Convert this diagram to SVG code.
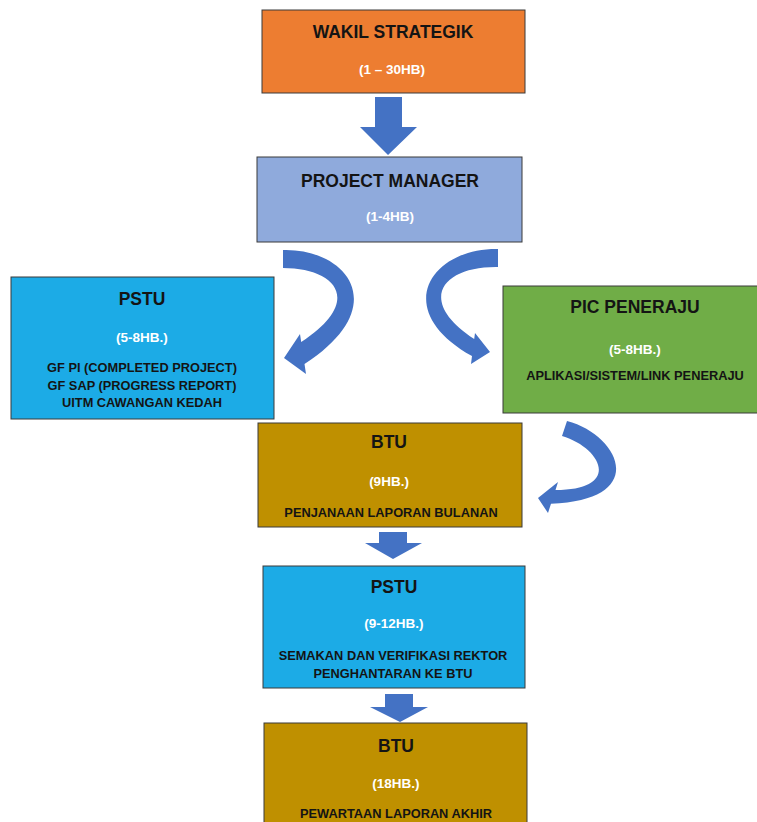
<svg xmlns="http://www.w3.org/2000/svg" width="757" height="822" viewBox="0 0 757 822">
<style>
.box{stroke:#3a3a3a;stroke-width:1}
.t{font-family:"Liberation Sans",Arial,sans-serif;font-weight:bold;fill:#141414;text-anchor:middle}
.h{font-size:17.5px}
.s{font-size:13.5px;fill:#ffffff}
.d{font-size:12.8px}
.arr{fill:#4472C4}
</style>
<rect width="757" height="822" fill="#ffffff"/>
<g id="connectors">
<path class="arr" d="M375,97 L402,97 L402,127 L417,127 L388,155 L360,127 L375,127 Z"/>
<path class="arr" d="M283,250 C345,248 395,305 304.5,364 L306,374 L284,358 L300,334 L301.2,342 C365,300 335,268 283,268 Z"/>
<path class="arr" d="M498,249 C430,248 390,310 472,356 L471,364 L490,352 L475,333 L474.2,339 C415,300 443,266 498,267 Z"/>
<path class="arr" d="M567,421 C620,435 650,500 551,503.7 L548,513 L538,498 L558,482 L555.5,490 C622,490 602,448 562,436 Z"/>
<path class="arr" d="M379,532 L407,532 L407,543 L422,543 L393,559 L365,543 L379,543 Z"/>
<path class="arr" d="M385,694 L413,694 L413,707 L428,707 L400,722 L370,707 L385,707 Z"/>
</g>
<g id="wakil">
<rect class="box" x="262" y="10" width="263" height="83" fill="#ED7D31"/>
<text class="t h" x="393" y="38">WAKIL STRATEGIK</text>
<text class="t s" x="392" y="74">(1 – 30HB)</text>
</g>
<g id="pm">
<rect class="box" x="257" y="157" width="265" height="85" fill="#8FAADC"/>
<text class="t h" x="390" y="187">PROJECT MANAGER</text>
<text class="t s" x="390" y="221">(1-4HB)</text>
</g>
<g id="pstu1">
<rect class="box" x="11" y="277" width="263" height="142" fill="#1CABE6"/>
<text class="t h" x="142" y="305">PSTU</text>
<text class="t s" x="142" y="342">(5-8HB.)</text>
<text class="t d" x="142" y="372">GF PI (COMPLETED PROJECT)</text>
<text class="t d" x="142" y="390">GF SAP (PROGRESS REPORT)</text>
<text class="t d" x="142" y="407">UITM CAWANGAN KEDAH</text>
</g>
<g id="pic">
<rect class="box" x="503" y="286" width="264" height="127" fill="#70AD47"/>
<text class="t h" x="635" y="313">PIC PENERAJU</text>
<text class="t s" x="635" y="354">(5-8HB.)</text>
<text class="t d" x="635" y="380">APLIKASI/SISTEM/LINK PENERAJU</text>
</g>
<g id="btu1">
<rect class="box" x="258" y="423" width="264" height="104" fill="#BF9000"/>
<text class="t h" x="389" y="448">BTU</text>
<text class="t s" x="389" y="486">(9HB.)</text>
<text class="t d" x="391" y="517">PENJANAAN LAPORAN BULANAN</text>
</g>
<g id="pstu2">
<rect class="box" x="263" y="566" width="262" height="122" fill="#1CABE6"/>
<text class="t h" x="394" y="593">PSTU</text>
<text class="t s" x="394" y="628">(9-12HB.)</text>
<text class="t d" x="393" y="660">SEMAKAN DAN VERIFIKASI REKTOR</text>
<text class="t d" x="393" y="678">PENGHANTARAN KE BTU</text>
</g>
<g id="btu2">
<rect class="box" x="264" y="723" width="263" height="110" fill="#BF9000"/>
<text class="t h" x="396" y="752">BTU</text>
<text class="t s" x="396" y="788">(18HB.)</text>
<text class="t d" x="396" y="818">PEWARTAAN LAPORAN AKHIR</text>
</g>
</svg>
